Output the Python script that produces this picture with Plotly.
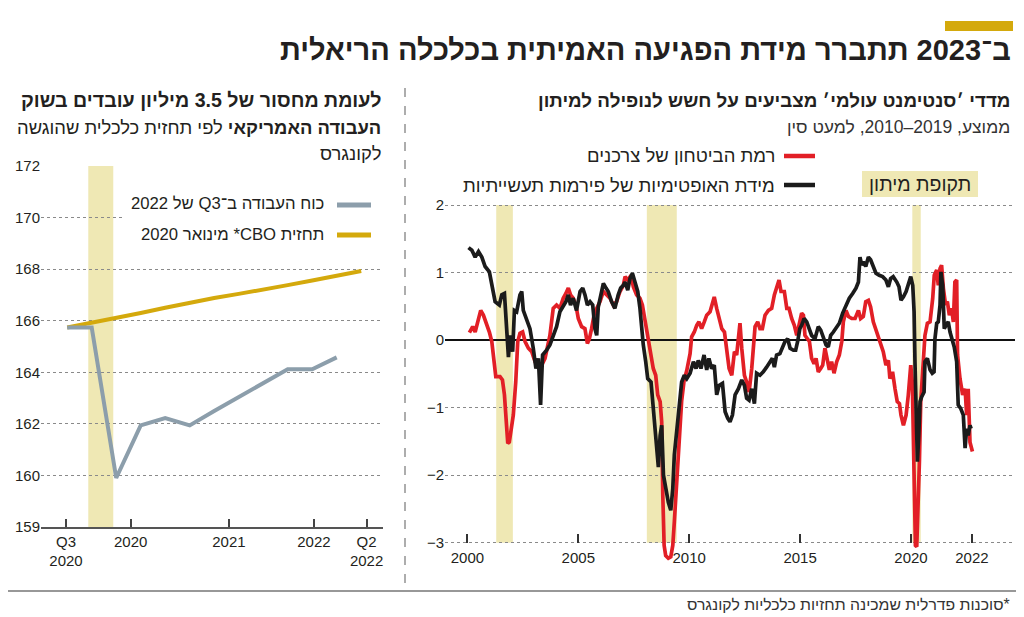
import plotly.graph_objects as go

W, H = 1024, 617


def px(x):
    return x / W


def py(y):
    return 1 - y / H


RLE, PDF = "\u202B", "\u202C"

FONT = "Liberation Sans Narrow, Liberation Sans, DejaVu Sans Condensed, sans-serif"

# ---------------- Left chart data (US labor force, millions) ----------------
lf_quarters = [0, 1, 2, 3, 4, 5, 6, 7, 8, 9, 10, 11]
labor_force = [165.74, 165.74, 159.9, 161.94, 162.22, 161.94, 162.5, 163.05, 163.6, 164.12, 164.12, 164.58]
cbo_quarters = [0, 1, 2, 3, 4, 5, 6, 7, 8, 9, 10, 11, 12]
cbo_forecast = [165.74, 165.92, 166.1, 166.3, 166.5, 166.7, 166.88, 167.04, 167.2, 167.38, 167.56, 167.74, 167.93]
left_band = [0.86, 1.88]
left_xtick_vals = [-0.05, 2.59, 6.6, 10.07, 12.22]
left_xtick_text = ["Q3<br>2020", "2020", "2021", "2022", "Q2<br>2022"]
left_ytick_vals = [158, 160, 162, 164, 166, 168, 170, 172]
left_ytick_text = ["159", "160", "162", "164", "166", "168", "170", "172"]

# ---------------- Right chart data (sentiment indices) ----------------
firms_years = [
    2000.05, 2000.20, 2000.35, 2000.50, 2000.65, 2000.80, 2000.99, 2001.10, 2001.25, 2001.44,
    2001.55, 2001.67, 2001.77, 2001.85, 2001.92, 2002.04, 2002.12, 2002.22, 2002.37, 2002.45,
    2002.52, 2002.67, 2002.82, 2002.97, 2003.09, 2003.20, 2003.30, 2003.39, 2003.57, 2003.72,
    2003.87, 2004.02, 2004.17, 2004.32, 2004.44, 2004.55, 2004.65, 2004.77, 2004.92, 2005.08,
    2005.20, 2005.30, 2005.41, 2005.53, 2005.65, 2005.75, 2005.83, 2005.90, 2006.00, 2006.13,
    2006.25, 2006.35, 2006.50, 2006.65, 2006.80, 2006.91, 2007.03, 2007.11, 2007.23, 2007.33,
    2007.44, 2007.56, 2007.68, 2007.78, 2007.86, 2007.93, 2008.04, 2008.13, 2008.28, 2008.38,
    2008.46, 2008.54, 2008.61, 2008.69, 2008.76, 2008.84, 2008.94, 2009.06, 2009.17, 2009.26,
    2009.33, 2009.44, 2009.54, 2009.66, 2009.78, 2009.89, 2010.04, 2010.19, 2010.31, 2010.41,
    2010.53, 2010.67, 2010.79, 2010.89, 2011.01, 2011.13, 2011.24, 2011.35, 2011.50, 2011.62,
    2011.74, 2011.84, 2011.95, 2012.07, 2012.22, 2012.37, 2012.49, 2012.59, 2012.70, 2012.82,
    2012.94, 2013.04, 2013.19, 2013.34, 2013.49, 2013.64, 2013.75, 2013.84, 2013.94, 2014.09,
    2014.20, 2014.32, 2014.44, 2014.55, 2014.70, 2014.80, 2014.89, 2014.99, 2015.07, 2015.18,
    2015.30, 2015.42, 2015.52, 2015.67, 2015.82, 2015.93, 2016.05, 2016.17, 2016.27, 2016.38,
    2016.50, 2016.62, 2016.77, 2016.92, 2017.07, 2017.22, 2017.37, 2017.52, 2017.63, 2017.70,
    2017.78, 2017.85, 2017.96, 2018.08, 2018.18, 2018.30, 2018.42, 2018.57, 2018.72, 2018.87,
    2018.98, 2019.08, 2019.20, 2019.36, 2019.46, 2019.55, 2019.66, 2019.78, 2019.88, 2019.99,
    2020.08, 2020.14, 2020.18, 2020.24, 2020.29, 2020.35, 2020.41, 2020.48, 2020.59, 2020.63,
    2020.74, 2020.86, 2020.96, 2021.04, 2021.08, 2021.16, 2021.23, 2021.31, 2021.35, 2021.43,
    2021.50, 2021.58, 2021.68, 2021.76, 2021.86, 2021.95, 2022.06, 2022.13, 2022.24, 2022.36,
    2022.44, 2022.51, 2022.58, 2022.66, 2022.71,
]
firms_values = [
    1.37, 1.33, 1.23, 1.31, 1.23, 1.09, 1.01, 0.81, 0.57, 0.52,
    0.67, 0.69, 0.12, -0.25, 0.07, -0.17, 0.44, 0.42, 0.67, 0.72,
    0.44, 0.30, 0.17, -0.12, -0.42, -0.27, -0.96, -0.22, -0.15, -0.07,
    0.07, 0.20, 0.42, 0.49, 0.57, 0.67, 0.52, 0.62, 0.44, 0.72,
    0.77, 0.67, 0.52, 0.57, 0.52, 0.17, 0.07, 0.49, 0.67, 0.84,
    0.77, 0.72, 0.57, 0.47, 0.67, 0.77, 0.81, 0.86, 0.74, 0.91,
    0.99, 0.84, 0.72, 0.47, 0.17, -0.07, -0.32, -0.57, -0.62, -1.01,
    -1.41, -1.75, -1.88, -1.41, -1.26, -2.00, -2.20, -2.40, -2.52, -2.20,
    -1.70, -1.31, -0.96, -0.62, -0.52, -0.57, -0.49, -0.32, -0.42, -0.30,
    -0.42, -0.22, -0.44, -0.27, -0.42, -0.37, -0.81, -0.67, -0.64, -1.06,
    -1.16, -1.21, -1.11, -0.81, -0.72, -0.59, -0.67, -0.86, -0.89, -0.72,
    -0.94, -0.49, -0.52, -0.47, -0.40, -0.32, -0.27, -0.40, -0.22, -0.20,
    -0.10, -0.02, 0.02, -0.12, -0.15, -0.15, -0.02, 0.17, 0.22, 0.32,
    0.27, 0.17, 0.07, 0.02, 0.20, 0.15, 0.02, -0.07, -0.10, 0.07,
    0.12, 0.17, 0.25, 0.40, 0.52, 0.62, 0.69, 0.77, 0.86, 1.23,
    1.11, 1.16, 1.09, 1.23, 1.19, 1.09, 0.99, 0.96, 0.94, 0.89,
    0.79, 0.91, 0.94, 0.86, 0.79, 0.59, 0.64, 0.72, 0.84, 0.94,
    0.81, 0.42, -0.32, -1.06, -1.80, -1.41, -0.91, -0.84, -0.77, -0.32,
    -0.27, -0.44, -0.49, -0.47, 0.02, 0.25, 0.27, 0.52, 1.01, 0.81,
    0.17, 0.22, 0.27, 0.12, 0.02, -0.10, -0.32, -0.96, -1.01, -1.11,
    -1.60, -1.31, -1.41, -1.26, -1.31,
]

consumer_years = [
    2000.09, 2000.24, 2000.35, 2000.45, 2000.60, 2000.72, 2000.87, 2000.99, 2001.10, 2001.20,
    2001.28, 2001.47, 2001.58, 2001.67, 2001.74, 2001.82, 2001.89, 2002.00, 2002.07, 2002.18,
    2002.27, 2002.37, 2002.49, 2002.60, 2002.75, 2002.90, 2003.05, 2003.20, 2003.35, 2003.50,
    2003.60, 2003.72, 2003.87, 2004.02, 2004.17, 2004.32, 2004.44, 2004.55, 2004.65, 2004.77,
    2004.89, 2005.00, 2005.15, 2005.30, 2005.41, 2005.50, 2005.60, 2005.71, 2005.83, 2005.98,
    2006.13, 2006.28, 2006.43, 2006.58, 2006.73, 2006.88, 2007.03, 2007.11, 2007.23, 2007.38,
    2007.48, 2007.63, 2007.78, 2007.89, 2008.01, 2008.13, 2008.23, 2008.38, 2008.49, 2008.58,
    2008.69, 2008.76, 2008.81, 2008.87, 2008.94, 2009.06, 2009.17, 2009.26, 2009.33, 2009.44,
    2009.51, 2009.59, 2009.66, 2009.77, 2009.89, 2010.04, 2010.11, 2010.23, 2010.34, 2010.44,
    2010.56, 2010.68, 2010.79, 2010.94, 2011.04, 2011.13, 2011.24, 2011.35, 2011.47, 2011.59,
    2011.69, 2011.80, 2011.92, 2012.04, 2012.14, 2012.29, 2012.37, 2012.49, 2012.59, 2012.70,
    2012.82, 2012.97, 2013.09, 2013.19, 2013.30, 2013.42, 2013.57, 2013.72, 2013.84, 2013.94,
    2014.05, 2014.14, 2014.29, 2014.40, 2014.50, 2014.62, 2014.74, 2014.85, 2014.95, 2015.07,
    2015.15, 2015.22, 2015.33, 2015.42, 2015.52, 2015.63, 2015.72, 2015.82, 2015.93, 2016.02,
    2016.12, 2016.20, 2016.32, 2016.42, 2016.53, 2016.65, 2016.77, 2016.88, 2016.95, 2017.07,
    2017.18, 2017.33, 2017.48, 2017.63, 2017.73, 2017.85, 2017.96, 2018.08, 2018.18, 2018.30,
    2018.45, 2018.60, 2018.75, 2018.87, 2018.98, 2019.05, 2019.17, 2019.28, 2019.38, 2019.48,
    2019.55, 2019.66, 2019.78, 2019.88, 2019.99, 2020.06, 2020.14, 2020.20, 2020.26, 2020.32,
    2020.38, 2020.44, 2020.53, 2020.63, 2020.74, 2020.86, 2020.98, 2021.05, 2021.16, 2021.23,
    2021.31, 2021.38, 2021.46, 2021.56, 2021.64, 2021.73, 2021.83, 2021.91, 2021.98, 2022.06,
    2022.10, 2022.21, 2022.33, 2022.44, 2022.51, 2022.58, 2022.66, 2022.77,
]
consumer_values = [
    0.11, 0.20, 0.12, 0.25, 0.44, 0.37, 0.25, 0.12, -0.02, -0.32,
    -0.54, -0.54, -0.59, -0.81, -1.21, -1.53, -1.51, -1.31, -1.11, -0.62,
    -0.02, 0.10, 0.12, -0.02, -0.12, -0.17, -0.32, -0.40, -0.37, -0.27,
    -0.12, 0.07, 0.47, 0.52, 0.47, 0.62, 0.69, 0.77, 0.67, 0.62,
    0.52, 0.32, 0.20, 0.17, -0.05, 0.02, 0.17, 0.37, 0.47, 0.57,
    0.72, 0.67, 0.62, 0.52, 0.57, 0.72, 0.81, 0.94, 0.89, 0.96,
    0.79, 0.67, 0.62, 0.52, 0.27, 0.02, -0.17, -0.42, -0.52, -0.81,
    -0.91, -1.21, -2.30, -3.04, -3.19, -3.23, -3.21, -3.04, -2.69, -2.05,
    -1.60, -1.20, -0.90, -0.60, -0.45, -0.20, 0.05, 0.12, 0.22, 0.27,
    0.17, 0.27, 0.37, 0.42, 0.52, 0.64, 0.47, 0.32, 0.17, 0.12,
    -0.12, -0.42, -0.52, -0.17, -0.22, 0.25, -0.12, -0.52, -0.62, -0.77,
    -0.42, 0.20, 0.27, 0.17, 0.17, 0.37, 0.44, 0.47, 0.67, 0.77,
    0.89, 0.72, 0.72, 0.47, 0.47, 0.32, 0.22, 0.07, 0.20, 0.40,
    0.37, 0.07, 0.02, -0.02, -0.27, -0.35, -0.27, -0.47, -0.42, -0.37,
    -0.12, -0.27, -0.44, -0.32, -0.49, -0.32, -0.22, -0.02, 0.27, 0.44,
    0.35, 0.32, 0.32, 0.44, 0.32, 0.35, 0.57, 0.59, 0.49, 0.27,
    0.12, -0.02, -0.17, -0.37, -0.30, -0.57, -0.47, -0.72, -0.91, -0.94,
    -1.11, -1.26, -1.11, -0.81, -0.37, -0.62, -1.80, -3.04, -3.06, -2.54,
    -1.80, -0.91, -0.32, 0.07, 0.25, 0.27, 0.62, 0.96, 1.04, 0.81,
    1.06, 1.11, 0.77, 0.52, 0.57, 0.37, 0.47, 0.27, 0.86, 0.89,
    -0.22, -0.57, -0.81, -0.72, -1.11, -0.72, -1.51, -1.65,
]

recession_start = [2001.30, 2008.09, 2020.06]
recession_end = [2002.05, 2009.44, 2020.44]
right_xtick_vals = [2000, 2005, 2010, 2015, 2020, 2022.75]
right_xtick_text = ["2000", "2005", "2010", "2015", "2020", "2022"]
right_ytick_vals = [-3, -2, -1, 0, 1, 2]
right_ytick_text = ["\u22123", "\u22122", "\u22121", "0", "1", "2"]

# ---------------- Colours ----------------
RED = "#e21f26"
BLACK = "#1b1b1b"
GRAY = "#8c9eab"
GOLD = "#d4a90c"
BAND = "#efe8b4"
TXT = "#231f20"

fig = go.Figure()

fig.add_trace(go.Scatter(x=cbo_quarters, y=cbo_forecast, mode="lines",
                         line=dict(color=GOLD, width=4), xaxis="x", yaxis="y",
                         showlegend=False, hoverinfo="skip"))
fig.add_trace(go.Scatter(x=lf_quarters, y=labor_force, mode="lines",
                         line=dict(color=GRAY, width=4), xaxis="x", yaxis="y",
                         showlegend=False, hoverinfo="skip"))
fig.add_trace(go.Scatter(x=consumer_years, y=consumer_values, mode="lines",
                         line=dict(color=RED, width=3.7), xaxis="x2", yaxis="y2",
                         showlegend=False, hoverinfo="skip"))
fig.add_trace(go.Scatter(x=firms_years, y=firms_values, mode="lines",
                         line=dict(color=BLACK, width=3.7), xaxis="x2", yaxis="y2",
                         showlegend=False, hoverinfo="skip"))

shapes = []
shapes.append(dict(type="rect", xref="x", yref="y", x0=left_band[0], x1=left_band[1],
                   y0=left_ytick_vals[0], y1=left_ytick_vals[-1], fillcolor=BAND,
                   line=dict(width=0), layer="below"))
for s, e in zip(recession_start, recession_end):
    shapes.append(dict(type="rect", xref="x2", yref="y2", x0=s, x1=e, y0=-3, y1=2,
                       fillcolor=BAND, line=dict(width=0), layer="below"))

shapes.append(dict(type="rect", xref="paper", yref="paper", x0=px(125), x1=px(380),
                   y0=py(250), y1=py(188), fillcolor="white", line=dict(width=0), layer="above"))
shapes.append(dict(type="line", xref="paper", yref="paper", x0=px(337), x1=px(371),
                   y0=py(205), y1=py(205), line=dict(color=GRAY, width=5)))
shapes.append(dict(type="line", xref="paper", yref="paper", x0=px(337), x1=px(371),
                   y0=py(235), y1=py(235), line=dict(color=GOLD, width=5)))
shapes.append(dict(type="line", xref="paper", yref="paper", x0=px(784), x1=px(815),
                   y0=py(156), y1=py(156), line=dict(color=RED, width=4.5)))
shapes.append(dict(type="line", xref="paper", yref="paper", x0=px(784), x1=px(815),
                   y0=py(185), y1=py(185), line=dict(color=BLACK, width=4.5)))
shapes.append(dict(type="rect", xref="paper", yref="paper", x0=px(862), x1=px(978),
                   y0=py(197), y1=py(171), fillcolor=BAND, line=dict(width=0)))
shapes.append(dict(type="rect", xref="paper", yref="paper", x0=px(945), x1=px(1013),
                   y0=py(31), y1=py(21), fillcolor=GOLD, line=dict(width=0)))
shapes.append(dict(type="line", xref="paper", yref="paper", x0=px(405), x1=px(405),
                   y0=py(88), y1=py(585), line=dict(color="#777", width=1.2, dash="dash")))
shapes.append(dict(type="line", xref="paper", yref="paper", x0=px(8), x1=px(1016),
                   y0=py(591), y1=py(591), line=dict(color="#333", width=1.2)))

ann = []


def add_text(text, x, y, size, bold=False, color=TXT, xanchor="right", embed=True):
    body = (RLE + text + PDF) if embed else text
    t = "<b>" + body + "</b>" if bold else body
    ann.append(dict(text=t, x=px(x), y=py(y), xref="paper", yref="paper",
                    xanchor=xanchor, yanchor="middle", showarrow=False, align="right",
                    font=dict(family=FONT, size=size, color=color)))


add_text("ב־2023 תתברר מידת הפגיעה האמיתית בכלכלה הריאלית", 1013, 50, 29, bold=True)
add_text("לעומת מחסור של 3.5 מיליון עובדים בשוק", 383, 100, 19.6, bold=True)
ann.append(dict(text="<b>העבודה האמריקאי</b> לפי תחזית כלכלית שהוגשה", x=px(383), y=py(127),
                xref="paper", yref="paper", xanchor="right", yanchor="middle", showarrow=False,
                align="right", font=dict(family=FONT, size=18.4, color=TXT)))
add_text("לקונגרס", 383, 153, 18.4)
add_text("מדדי ׳סנטימנט עולמי׳ מצביעים על חשש לנופילה למיתון", 1012, 100, 18.8, bold=True)
add_text("ממוצע, 2019–2010, למעט סין", 1012, 127, 17.5, color="#333")
add_text("רמת הביטחון של צרכנים", 777, 156, 18.5)
add_text("מידת האופטימיות של פירמות תעשייתיות", 777, 185, 18.5)
add_text("תקופת מיתון", 920, 184, 19.5, xanchor="center")
add_text("כוח העבודה ב־Q3 של 2022", 326, 204, 16.7)
add_text("תחזית CBO* מינואר 2020", 326, 234, 16.7)
add_text("*סוכנות פדרלית שמכינה תחזיות כלכליות לקונגרס", 1012, 604, 15.8, color="#333")

L_X0, L_X1 = 41, 383
L_Y_TOP, L_Y_BOT = 166, 527
R_X0, R_X1 = 445, 1015
R_Y_TOP, R_Y_BOT = 201, 563
R_AXIS_Y = 542.7

axis_font = dict(family=FONT, size=15, color=TXT)

fig.update_layout(
    template="none",
    width=W, height=H, autosize=False,
    margin=dict(l=0, r=0, t=0, b=0, pad=0, autoexpand=False),
    paper_bgcolor="white", plot_bgcolor="white",
    shapes=shapes, annotations=ann,
    showlegend=False,
    xaxis=dict(domain=[px(L_X0), px(L_X1)], range=[-1.07, 12.89], anchor="y",
               tickvals=left_xtick_vals, ticktext=left_xtick_text, automargin=False,
               ticks="inside", ticklen=8, tickwidth=1.5, tickcolor="#444",
               showline=True, linecolor="#555", linewidth=1.5,
               showgrid=False, zeroline=False, tickfont=axis_font, fixedrange=True),
    yaxis=dict(domain=[py(L_Y_BOT), py(L_Y_TOP)], range=[158, 172], anchor="x",
               tickvals=left_ytick_vals, ticktext=left_ytick_text, automargin=False,
               showgrid=True, gridcolor="#8a8a8a", gridwidth=1, griddash="dot",
               zeroline=False, showline=False, ticks="", tickfont=axis_font, fixedrange=True),
    xaxis2=dict(domain=[px(R_X0), px(R_X1)], range=[1998.99, 2024.69], anchor="free",
                position=py(R_AXIS_Y), automargin=False, ticklabelstandoff=4,
                tickvals=right_xtick_vals, ticktext=right_xtick_text,
                ticks="inside", ticklen=9, tickwidth=1.5, tickcolor="#333",
                showline=False, showgrid=False, zeroline=False,
                tickfont=axis_font, fixedrange=True),
    yaxis2=dict(domain=[py(R_Y_BOT), py(R_Y_TOP)], range=[-3.3, 2.06], anchor="x2",
                tickvals=right_ytick_vals, ticktext=right_ytick_text, automargin=False,
                showgrid=True, gridcolor="#8a8a8a", gridwidth=1, griddash="dot",
                zeroline=True, zerolinecolor="#111", zerolinewidth=2,
                showline=False, ticks="", tickfont=axis_font, fixedrange=True),
)

fig.write_html(
    "out.html",
    config={"displayModeBar": False, "responsive": False},
    post_script=(
        "var d=document.getElementById('{plot_id}');"
        "d.style.position='fixed';d.style.left='0px';d.style.top='0px';"
        "document.body.style.margin='0px';"
        "document.documentElement.style.overflow='hidden';"
        "document.body.style.overflow='hidden';"
    ),
)
